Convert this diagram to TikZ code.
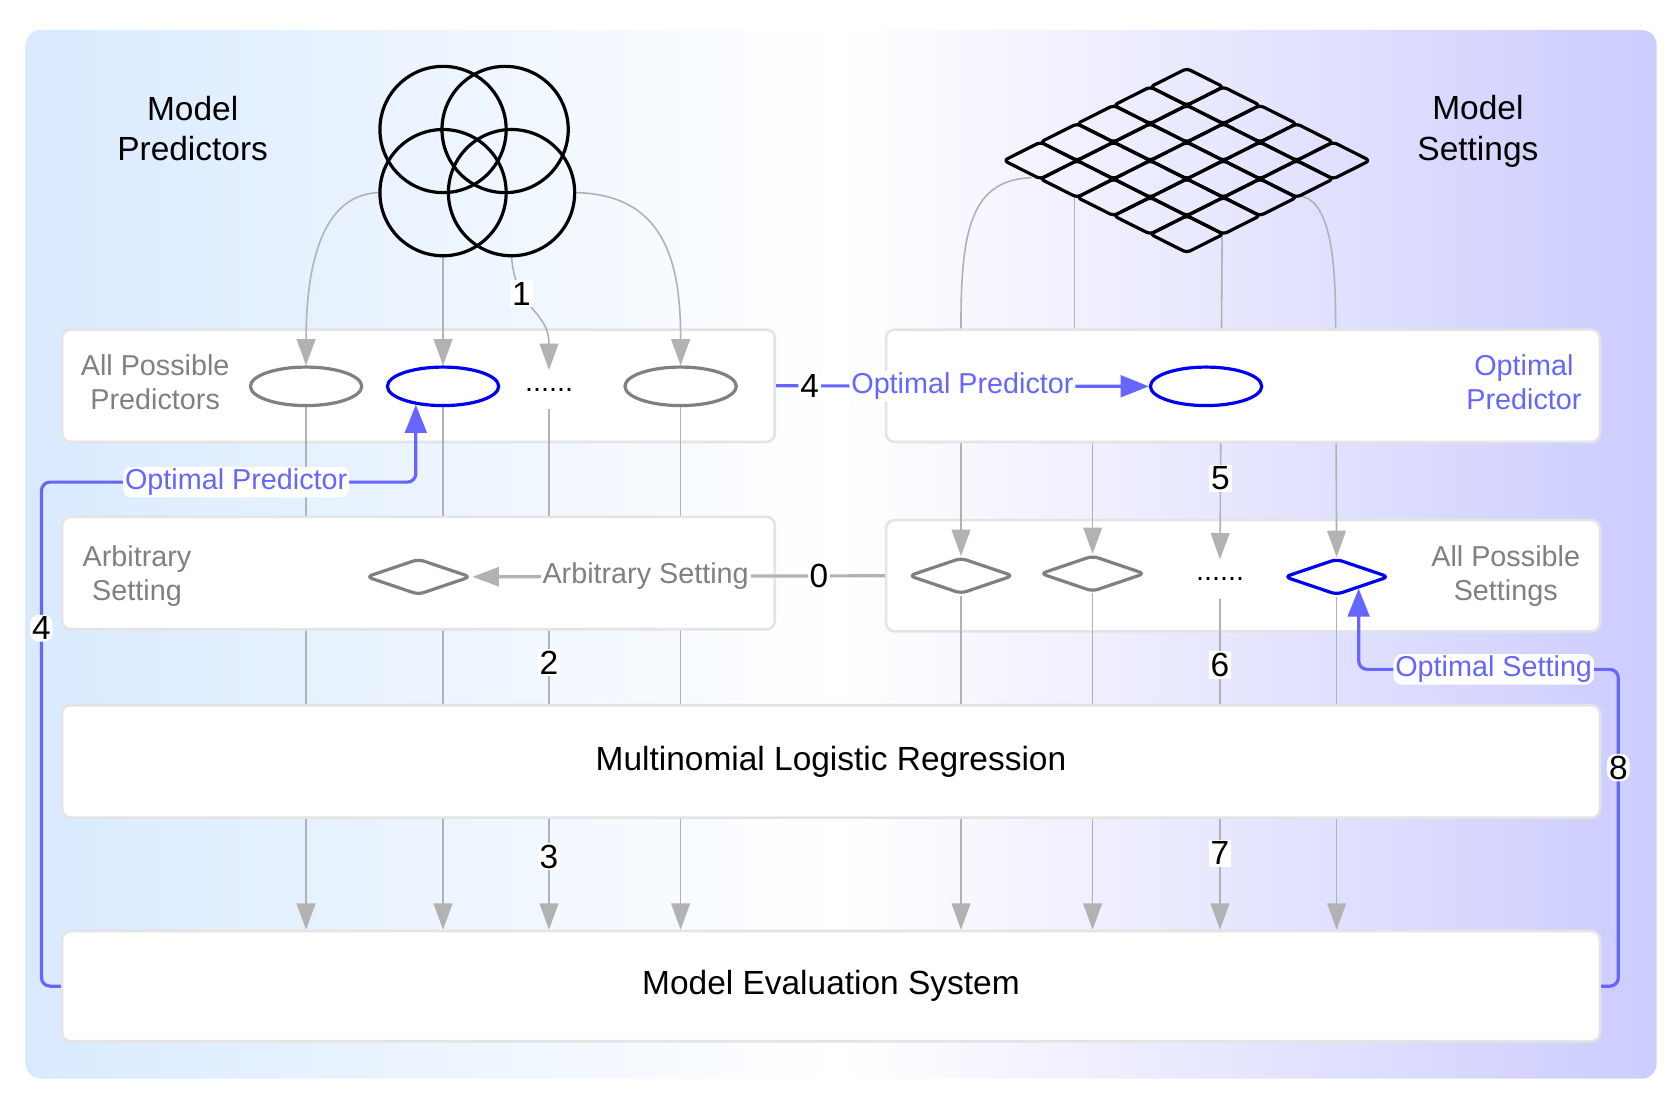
\documentclass[tikz,border=0pt]{standalone}
\usepackage{fontspec}
\setmainfont{Liberation Sans}
\usetikzlibrary{%
  arrows.meta,%
  shapes,%
  positioning,%
  fit,%
  backgrounds,%
  calc%
}
\definecolor{bgleft}{RGB}{217,234,255}
\definecolor{bgright}{RGB}{204,204,255}
\definecolor{panelline}{RGB}{228,228,228}
\definecolor{linegray}{RGB}{178,178,178}
\definecolor{shapegray}{RGB}{128,128,128}
\definecolor{optblue}{RGB}{0,0,240}
\definecolor{optviolet}{RGB}{102,102,255}
\pgfdeclarelayer{lines}
\pgfsetlayers{background,lines,main}

\begin{document}
\begin{tikzpicture}
[x=0.02cm, y=-0.02cm, >={Triangle[length=14pt,width=10pt]},
bigfont/.style={font=\fontsize{17.8}{21.6}\selectfont},
smallfont/.style={font=\fontsize{15.3}{18.2}\selectfont},
panel/.style={rectangle, draw=panelline, line width=1.4pt, fill=white, rounded corners=4.5pt, inner sep=0pt},
venn/.style={circle, draw=black, line width=1.7pt, minimum size=2.36cm, inner sep=0pt},
gridcell/.style={draw=black, line width=1.7pt, rounded corners=2pt, line join=round},
predictor/.style={ellipse, draw=shapegray, line width=1.7pt, minimum width=2.08cm, minimum height=0.72cm, inner sep=0pt},
setting/.style={diamond, draw=shapegray, line width=1.7pt, minimum width=1.96cm, minimum height=0.68cm, aspect=2.9, inner sep=0pt, rounded corners=3pt},
optimal/.style={draw=optblue},
dotsnode/.style={smallfont, minimum height=0.72cm, inner sep=0pt},
feed/.style={draw=linegray, line width=0.85pt, ->},
optline/.style={draw=optviolet, line width=1.7pt, rounded corners=4.5pt, -{Triangle[length=15pt,width=11.5pt]}},
steplabel/.style={bigfont, fill=white, inner sep=1pt},
optlabel/.style={smallfont, text=optviolet, fill=white, inner sep=1pt},
graylabel/.style={smallfont, text=shapegray, align=center},
headline/.style={bigfont, align=center}]

\useasboundingbox (0,0) rectangle (1568,1025);

\begin{pgfonlayer}{background}
\shade[left color=bgleft, right color=bgright, middle color=white, rounded corners=8pt] (24,28) rectangle (1548,1008);
\node[panel, fit={(58,308) (724,413)}] (boxpred) {};
\node[panel, fit={(828,486) (1495,590)}] (boxset) {};
\node[panel, fit={(58,659) (1495,764)}, label={[bigfont]center:Multinomial Logistic Regression}] (mlr) {};
\node[panel, fit={(58,870) (1495,973)}, label={[bigfont]center:Model Evaluation System}] (mes) {};
\end{pgfonlayer}

\node[panel, fit={(58,483) (724,588)}] (boxarb) {};
\node[panel, fit={(828,308) (1495,413)}] (boxopt) {};

% sources
\node[headline] (predtitle) at (180,120) {Model\\Predictors};
\node[headline] (settitle) at (1381,123) {Model\\Settings};

\node[venn] (vennTL) at (414,121) {};
\node[venn] (vennTR) at (472,121) {};
\node[venn] (vennBL) at (414,180) {};
\node[venn] (vennBR) at (478,180) {};

\foreach \i in {0,...,4}
  \foreach \j in {0,...,4}
    \draw[gridcell] ({938+34.2*(\i+\j)},{150+17.2*(\j-\i)}) -- ++(34.2,-17.2) -- ++(34.2,17.2) -- ++(-34.2,17.2) -- cycle;

\coordinate (gridA) at (964,166);
\coordinate (gridB) at (1004,183);
\coordinate (gridC) at (1142,219);
\coordinate (gridD) at (1214,183);

% predictors
\node[graylabel] (predlabel) at (145,357) {All Possible\\Predictors};
\node[predictor] (pred1) at (286,361) {};
\node[predictor, optimal] (pred2) at (414,361) {};
\node[dotsnode] (preddots) at (513,364) {......};
\node[predictor] (pred4) at (636,361) {};

\node[graylabel] (arblabel) at (128,538) {Arbitrary\\Setting};
\node[setting] (arb) at (391,539) {};

\node[predictor, optimal] (predopt) at (1127,361) {};
\node[smallfont, text=optviolet, align=center] (optlabel) at (1424,357) {Optimal\\Predictor};

% settings
\node[setting] (set1) at (898,538) {};
\node[setting] (set2) at (1021,536) {};
\node[dotsnode] (setdots) at (1140,541) {......};
\node[setting, optimal] (setopt) at (1249,539) {};
\node[graylabel] (setlabel) at (1407,538) {All Possible\\Settings};

\begin{pgfonlayer}{lines}
\draw[feed] (vennBL.west) .. controls (300,182) and (286,250) .. (pred1.north);
\draw[feed] (vennBL.south) -- (pred2.north);
\draw[feed] (vennBR.south) .. controls (482,290) and (513,290) .. node[steplabel, pos=0.3] {1} (preddots.north);
\draw[feed] (vennBR.east) .. controls (624,182) and (636,250) .. (pred4.north);

\draw[feed] (gridA) .. controls (910,168) and (898,210) .. (898,300) -- (set1.north);
\draw[feed] (gridB) -- (1004,360) -| (set2.north);
\draw[feed] (gridC) -- node[steplabel, pos=0.75] {5} (setdots.north);
\draw[feed] (gridD) .. controls (1240,186) and (1248,230) .. (1248,300) -- (setopt.north);

\foreach \src in {pred1, pred2, pred4, set1, set2, setopt}
  \draw[draw=linegray, line width=0.85pt] (\src.south) -- (\src.south |- mlr.north);
\draw[draw=linegray, line width=0.85pt] (preddots.south) -- node[steplabel, pos=0.86] {2} (preddots.south |- mlr.north);
\draw[draw=linegray, line width=0.85pt] (setdots.south) -- node[steplabel, pos=0.63] {6} (setdots.south |- mlr.north);

\foreach \src in {pred1, pred2, pred4, set1, set2, setopt}
  \draw[feed] (\src |- mlr.south) -- (\src |- mes.north);
\draw[feed] (preddots |- mlr.south) -- node[steplabel, pos=0.34] {3} (preddots |- mes.north);
\draw[feed] (setdots |- mlr.south) -- node[steplabel, pos=0.31] {7} (setdots |- mes.north);
\end{pgfonlayer}

% feedback
\draw[draw=linegray, line width=1.7pt, ->] (boxset.west) -- node[steplabel, pos=0.16] {0}
  node[smallfont, text=shapegray, fill=white, inner sep=1pt, pos=0.58] {Arbitrary Setting} (arb.east);
\draw[optline] (boxpred.east) -- node[steplabel, pos=0.09] {4}
  node[optlabel, pos=0.5] {Optimal Predictor} (predopt.west);
\draw[optline] (mes.west) -- ++(-18,0) -- node[steplabel, pos=0.71] {4} ++(0,-471)
  -| node[optlabel, pos=0.26] {Optimal Predictor} (pred2.214);
\draw[optline] (mes.east) -- ++(16,0) -- node[steplabel, pos=0.69] {8} ++(0,-296)
  -| node[optlabel, pos=0.24] {Optimal Setting} (setopt.-28);
\end{tikzpicture}
\end{document}
